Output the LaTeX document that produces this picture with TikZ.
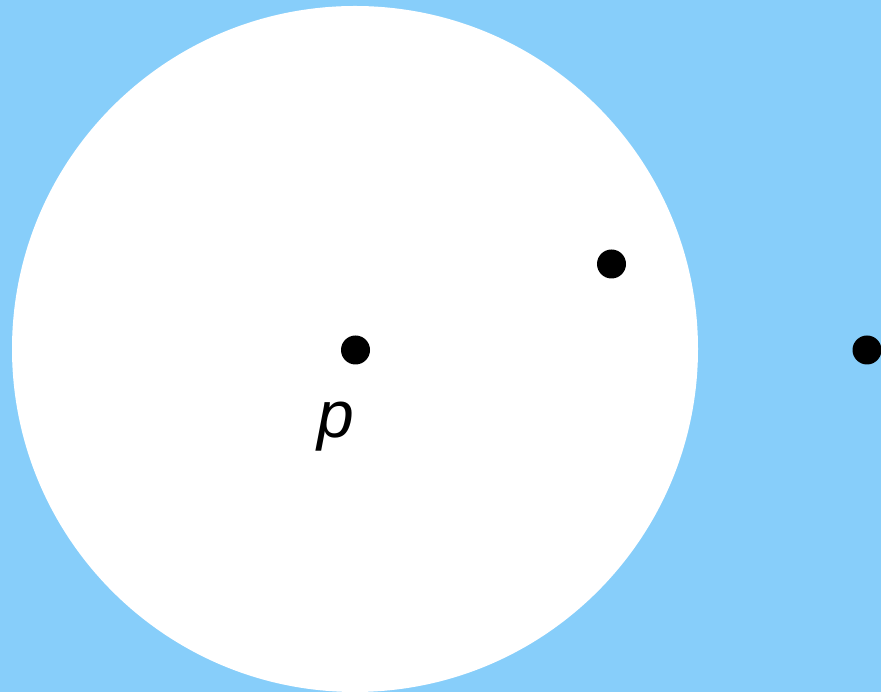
\documentclass[tikz,border=0pt]{standalone}
\usepackage{fontspec}
\setmainfont{Liberation Sans}
\definecolor{bgblue}{RGB}{135,206,250}
\tikzset{
  dotpt/.style={circle, fill=black, inner sep=0pt, minimum size=29pt},
  lbl/.style={font=\fontsize{66}{66}\selectfont\itshape, inner sep=0pt, anchor=base}
}
\begin{document}
\begin{tikzpicture}[x=1pt,y=1pt]
\fill[bgblue] (0,0) rectangle (881,692);
\useasboundingbox (0,0) rectangle (881,692);
\fill[white] (355,343) circle (343);
\node[dotpt] (p) at (355.5,342) {};
\node[dotpt] (q) at (611.5,428) {};
\node[dotpt] (r) at (867,342) {};
\node[lbl] (plabel) at (336,254) {p};
\end{tikzpicture}
\end{document}
